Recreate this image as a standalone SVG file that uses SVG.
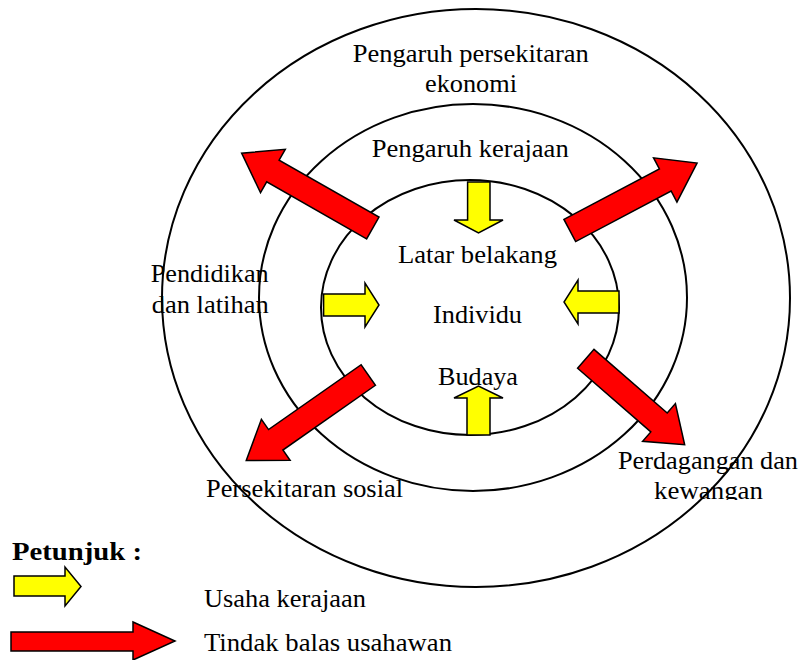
<svg xmlns="http://www.w3.org/2000/svg" width="801" height="660" viewBox="0 0 801 660">
<style>
.ring{fill:none;stroke:#000;stroke-width:2}
.red{fill:#FF0000;stroke:#000;stroke-width:1.5;stroke-linejoin:miter}
.yel{fill:#FFFF00;stroke:#000;stroke-width:1.5;stroke-linejoin:miter}
text{font-family:'Liberation Serif','DejaVu Serif',serif;font-size:25px;fill:#000}
.b{font-weight:bold}
</style>
<defs>
<clipPath id="clipKew"><rect x="600" y="440" width="201" height="60"/></clipPath>
</defs>
<rect width="801" height="660" fill="#fff"/>
<g id="outer-ring"><ellipse class="ring" cx="476" cy="298" rx="314" ry="289"/></g>
<g id="middle-ring"><ellipse class="ring" cx="473" cy="297.5" rx="214" ry="193.5"/></g>
<g id="inner-ring"><ellipse class="ring" cx="470" cy="307.5" rx="149" ry="127.5"/></g>
<g id="connectors">
<path class="red" transform="translate(372.8,228) rotate(209.7)" d="M0,-12.5 H115 V-25 L151,0 L115,25 V12.5 H0 Z"/>
<path class="red" transform="translate(569.8,230.5) rotate(-27.9)" d="M0,-12.5 H108 V-25 L144,0 L108,25 V12.5 H0 Z"/>
<path class="red" transform="translate(368.3,375) rotate(145)" d="M0,-12.5 H113 V-25 L149,0 L113,25 V12.5 H0 Z"/>
<path class="red" transform="translate(585.8,358.8) rotate(41)" d="M0,-12.5 H97 V-25 L131,0 L97,25 V12.5 H0 Z"/>
<path class="yel" d="M467.6,182 H490 V220 H503 L478.5,233 L454,220 H467.6 Z"/>
<path class="yel" d="M467,435 H490 V398 H503 L478.5,386 L454,398 H467 Z"/>
<path class="yel" d="M323.6,294 H365 V283 L379,305 L365,327 V316 H323.6 Z"/>
<path class="yel" d="M619,291 H578 V280 L564,302 L578,324 V313 H619 Z"/>
</g>
<g id="label-ekonomi">
<text x="352.7" y="62" textLength="236" lengthAdjust="spacingAndGlyphs">Pengaruh persekitaran</text>
<text x="425" y="92" textLength="92" lengthAdjust="spacingAndGlyphs">ekonomi</text>
</g>
<g id="label-kerajaan"><text x="371.7" y="157" textLength="197" lengthAdjust="spacingAndGlyphs">Pengaruh kerajaan</text></g>
<g id="label-latar"><text x="398" y="263" textLength="159" lengthAdjust="spacingAndGlyphs">Latar belakang</text></g>
<g id="label-individu"><text x="433" y="323" textLength="89" lengthAdjust="spacingAndGlyphs">Individu</text></g>
<g id="label-budaya"><text x="438" y="385" textLength="80" lengthAdjust="spacingAndGlyphs">Budaya</text></g>
<g id="label-pendidikan">
<text x="150.7" y="282" textLength="118" lengthAdjust="spacingAndGlyphs">Pendidikan</text>
<text x="151.7" y="312.5" textLength="117" lengthAdjust="spacingAndGlyphs">dan latihan</text>
</g>
<g id="label-sosial"><text x="206" y="497" textLength="197" lengthAdjust="spacingAndGlyphs">Persekitaran sosial</text></g>
<g id="label-perdagangan" clip-path="url(#clipKew)">
<text x="618" y="469" textLength="180" lengthAdjust="spacingAndGlyphs">Perdagangan dan</text>
<text x="654" y="499" textLength="109" lengthAdjust="spacingAndGlyphs">kewangan</text>
</g>
<g id="legend">
<text class="b" x="12" y="560" textLength="130" lengthAdjust="spacingAndGlyphs">Petunjuk :</text>
<path class="yel" d="M14,576 H65 V567 L81,586.5 L65,606 V596 H14 Z"/>
<text x="204" y="607" textLength="162" lengthAdjust="spacingAndGlyphs">Usaha kerajaan</text>
<path class="red" d="M11,632 H133 V622 L175,641 L133,660 V651 H11 Z"/>
<text x="204" y="651" textLength="248" lengthAdjust="spacingAndGlyphs">Tindak balas usahawan</text>
</g>
</svg>
